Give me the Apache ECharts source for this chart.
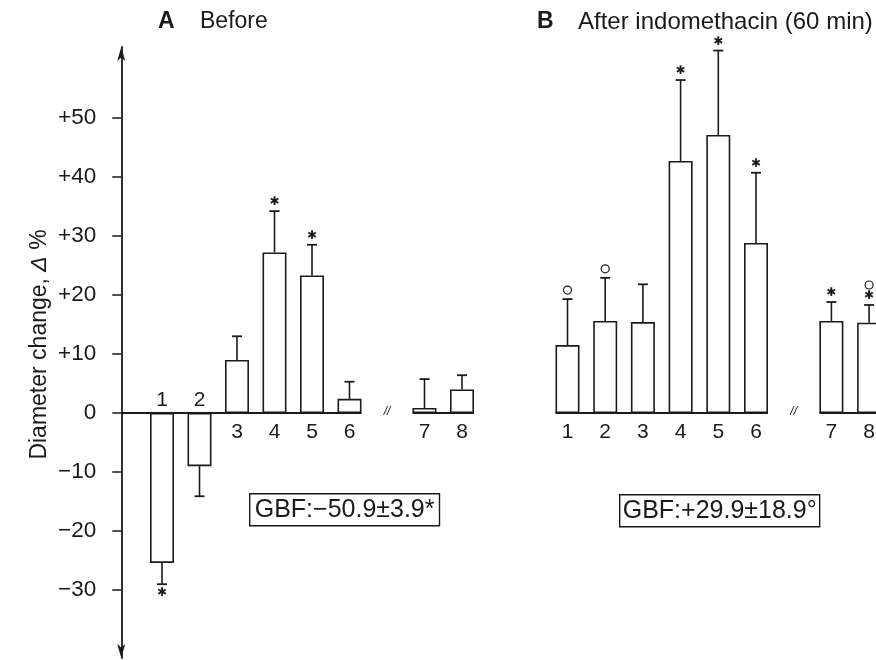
<!DOCTYPE html>
<html>
<head>
<meta charset="utf-8">
<script src="https://cdn.jsdelivr.net/npm/echarts@6/dist/echarts.min.js"></script>
<style>
  html, body { margin: 0; padding: 0; background: #fff; }
  #main { width: 876px; height: 660px; }
</style>
</head>
<body>
<div id="main"></div>
<script>
// data (diameter change, %)
var categories = ['1', '2', '3', '4', '5', '6', '', '7', '8'];
var breakIndex = 6;

var beforeMean = [-25.4, -9.0, 9.0, 27.2, 23.3, 2.4, null, 0.85, 4.0];
var beforeErr = [3.6, 5.1, 4.0, 7.0, 5.2, 2.9, null, 4.9, 2.4];
var beforeMarks = ['*', '', '', '*', '*', '', '', '', ''];

var afterMean = [11.5, 15.6, 15.4, 42.7, 47.1, 28.8, null, 15.6, 15.3];
var afterErr = [7.8, 7.3, 6.4, 13.7, 14.3, 11.9, null, 3.2, 3.0];
var afterMarks = ['o', 'o', '', '*', '*', '*', '', '*', '*o'];

var yTicks = [-30, -20, -10, 0, 10, 20, 30, 40, 50];

var gbfBefore = 'GBF:\u221250.9\u00b13.9*';
var gbfAfter = 'GBF:+29.9\u00b118.9\u00b0';

var FONT = 'Liberation Sans, Arial, Helvetica, sans-serif';
var INK = '#1a1a1a';
var BAR_W = 24;
var Y_MIN = -41.5, Y_MAX = 62;

var chart = echarts.init(document.getElementById('main'));

function errorData(mean, err) {
  var out = [];
  for (var i = 0; i < mean.length; i++) {
    if (mean[i] == null) continue;
    out.push([i, mean[i], err[i]]);
  }
  return out;
}

// error whiskers, significance marks and the bar numbers
function errorRender(marks) {
  return function (params, api) {
    var i = api.value(0), m = api.value(1), e = api.value(2);
    var dir = m < 0 ? -1 : 1;
    var top = api.coord([i, m]);
    var end = api.coord([i, m + dir * e]);
    var zero = api.coord([i, 0]);
    var kids = [
      { type: 'line', shape: { x1: top[0], y1: top[1], x2: end[0], y2: end[1] },
        style: { stroke: INK, lineWidth: 1.6 } },
      { type: 'line', shape: { x1: end[0] - 5, y1: end[1], x2: end[0] + 5, y2: end[1] },
        style: { stroke: INK, lineWidth: 1.8 } }
    ];
    var s = marks[i] || '';
    for (var k = 0; k < s.length; k++) {
      var y = end[1] - dir * (9 + 11 * k);
      if (s[k] === 'o') {
        kids.push({ type: 'circle', shape: { cx: end[0], cy: y, r: 4 },
          style: { fill: 'none', stroke: INK, lineWidth: 1.2 } });
      } else {
        kids.push({ type: 'text', style: { text: '\u2731', x: end[0], y: y,
          align: 'center', verticalAlign: 'middle', font: 'bold 12px DejaVu Sans', fill: INK } });
      }
    }
    // negative bars carry their number above the zero line
    kids.push({ type: 'text', style: { text: categories[i], x: zero[0], y: m < 0 ? zero[1] - 13 : zero[1] + 19,
      align: 'center', verticalAlign: 'middle', font: '21px ' + FONT, fill: INK } });
    return { type: 'group', children: kids };
  };
}

// the zero line under the bars, broken at the gap
function baseRender(params, api) {
  var a = api.coord([api.value(0), 0]);
  var b = api.coord([api.value(1), 0]);
  var x0 = api.value(2) ? params.coordSys.x - 22 : a[0] - BAR_W / 2;
  return { type: 'line', shape: { x1: x0, y1: a[1], x2: b[0] + BAR_W / 2, y2: a[1] },
    style: { stroke: INK, lineWidth: 1.8 } };
}

function breakRender(params, api) {
  var p = api.coord([api.value(0), 0]);
  return { type: 'text', style: { text: '//', x: p[0], y: p[1] - 1, align: 'center',
    verticalAlign: 'middle', font: 'italic 12px ' + FONT, fill: INK } };
}

function xAxisFor(idx) {
  return {
    type: 'category', gridIndex: idx, data: categories,
    axisLine: { show: false }, axisTick: { show: false }, axisLabel: { show: false }
  };
}

function sign(v) {
  if (v > 0) return '+' + v;
  if (v < 0) return '\u2212' + Math.abs(v);
  return '0';
}

var option = {
  backgroundColor: '#fff',
  animation: false,
  title: [
    { text: 'A', left: 158, top: 10, padding: 0, textStyle: { fontSize: 23, fontWeight: 'bold', fontFamily: FONT, color: INK } },
    { text: 'Before', left: 200, top: 10, padding: 0, textStyle: { fontSize: 23, fontWeight: 'normal', fontFamily: FONT, color: INK } },
    { text: 'B', left: 537, top: 10, padding: 0, textStyle: { fontSize: 23, fontWeight: 'bold', fontFamily: FONT, color: INK } },
    { text: 'After indomethacin (60 min)', left: 578, top: 10, padding: 0, textStyle: { fontSize: 24, fontWeight: 'normal', fontFamily: FONT, color: INK } }
  ],
  grid: [
    { left: 143.25, width: 337.5, top: 47, height: 611, outerBoundsMode: 'none', containLabel: false },
    { left: 548.65, width: 339.3, top: 47, height: 611, outerBoundsMode: 'none', containLabel: false }
  ],
  xAxis: [xAxisFor(0), xAxisFor(1)],
  yAxis: [
    {
      type: 'value', gridIndex: 0, min: Y_MIN, max: Y_MAX, offset: 22,
      name: 'Diameter change, {i|\u0394} %', nameLocation: 'middle', nameGap: 70,
      nameTextStyle: { fontSize: 23, fontFamily: FONT, color: INK, padding: [0, 0, 0, 16],
        rich: { i: { fontSize: 23, fontFamily: FONT, fontStyle: 'italic', color: INK } } },
      axisLine: { show: true, symbol: ['arrow', 'arrow'], symbolSize: [6, 14],
        lineStyle: { color: INK, width: 1.8 } },
      axisTick: { show: true, customValues: yTicks, length: 9, lineStyle: { color: INK, width: 1.5 } },
      axisLabel: { customValues: yTicks, margin: 25, fontSize: 22.5, fontFamily: FONT, color: INK, formatter: sign },
      splitLine: { show: false }
    },
    {
      type: 'value', gridIndex: 1, min: Y_MIN, max: Y_MAX, show: false, splitLine: { show: false }
    }
  ],
  series: [
    { type: 'custom', xAxisIndex: 0, yAxisIndex: 0, renderItem: baseRender, data: [[0, 5, 1], [7, 8, 0]], z: 5, silent: true },
    { type: 'custom', xAxisIndex: 1, yAxisIndex: 1, renderItem: baseRender, data: [[0, 5, 0], [7, 8, 0]], z: 5, silent: true },
    { type: 'custom', xAxisIndex: 0, yAxisIndex: 0, renderItem: breakRender, data: [[breakIndex, 0]], silent: true },
    { type: 'custom', xAxisIndex: 1, yAxisIndex: 1, renderItem: breakRender, data: [[breakIndex, 0]], silent: true },
    {
      type: 'bar', xAxisIndex: 0, yAxisIndex: 0, data: beforeMean, barWidth: BAR_W,
      itemStyle: { color: '#fff', borderColor: INK, borderWidth: 1.6 }, z: 3
    },
    {
      type: 'bar', xAxisIndex: 1, yAxisIndex: 1, data: afterMean, barWidth: BAR_W,
      itemStyle: { color: '#fff', borderColor: INK, borderWidth: 1.6 }, z: 3
    },
    { type: 'custom', xAxisIndex: 0, yAxisIndex: 0, renderItem: errorRender(beforeMarks),
      data: errorData(beforeMean, beforeErr), encode: { x: 0, y: 1 }, z: 4, silent: true },
    { type: 'custom', xAxisIndex: 1, yAxisIndex: 1, renderItem: errorRender(afterMarks),
      data: errorData(afterMean, afterErr), encode: { x: 0, y: 1 }, z: 4, silent: true }
  ],
  graphic: [
    { type: 'text', left: 249, top: 493, silent: true,
      style: { text: gbfBefore, font: '25px ' + FONT, fill: INK, borderColor: INK, borderWidth: 1.4, padding: [4, 5, 3, 5] } },
    { type: 'text', left: 619, top: 494, silent: true,
      style: { text: gbfAfter, font: '25px ' + FONT, fill: INK, borderColor: INK, borderWidth: 1.4, padding: [4, 3, 3, 3] } }
  ]
};

chart.setOption(option);
</script>
</body>
</html>
